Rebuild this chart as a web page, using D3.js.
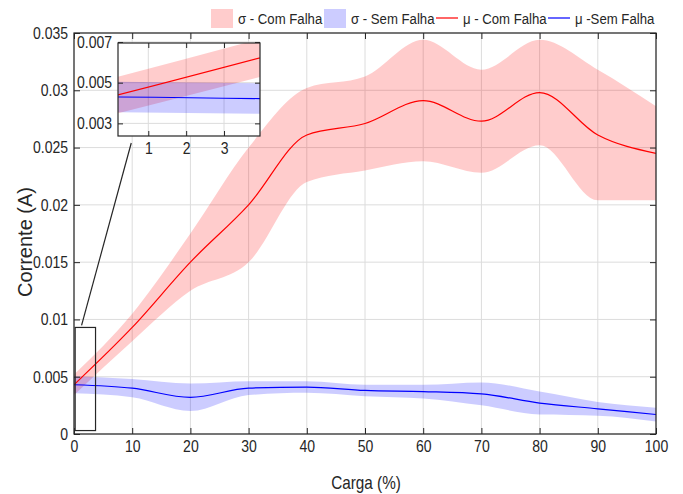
<!DOCTYPE html>
<html>
<head>
<meta charset="utf-8">
<script src="https://cdn.jsdelivr.net/npm/d3@7"></script>
<style>
  body { margin: 0; background: #fff; }
  text { font-family: "Liberation Sans", Arial, sans-serif; fill: #262626; }
</style>
</head>
<body>
<svg id="chart" width="683" height="494"></svg>
<script>
// carga (%) and current statistics (A)
const carga = [0, 10, 20, 30, 40, 50, 60, 70, 80, 90, 100];
const muCom = [0.0043, 0.0093, 0.0150, 0.0200, 0.0261, 0.0271, 0.0291, 0.0273, 0.0298, 0.0261, 0.0245];
const sdCom = [0.0009, 0.0012, 0.0025, 0.0050, 0.0041, 0.0041, 0.0053, 0.0045, 0.0046, 0.0057, 0.0041];
const muSem = [0.0043, 0.0040, 0.0032, 0.0040, 0.0041, 0.0038, 0.0037, 0.0035, 0.0027, 0.0022, 0.0017];
const sdSem = [0.00075, 0.0008, 0.0012, 0.0006, 0.0005, 0.0005, 0.0006, 0.0010, 0.0010, 0.0006, 0.0006];

const xTicks = d3.range(0, 101, 10);
const yTicks = [0, 0.005, 0.01, 0.015, 0.02, 0.025, 0.03, 0.035];
const insetXTicks = [1, 2, 3];
const insetYTicks = [0.003, 0.005, 0.007];
const legendLabels = ["σ - Com Falha", "σ - Sem Falha", "μ - Com Falha", "μ -Sem Falha"];

const com = carga.map((c, i) => ({x: c, mu: muCom[i], sd: sdCom[i]}));
const sem = carga.map((c, i) => ({x: c, mu: muSem[i], sd: sdSem[i]}));

const svg = d3.select("#chart");
const axisCol = "#262626", gridCol = "#dcdcdc";

function panel(g, x, y, xt, yt, fmtX, fmtY, clipId, tickLen) {
  const [x0, x1] = x.range(), [y0, y1] = y.range();
  g.append("clipPath").attr("id", clipId)
    .append("rect").attr("x", x0).attr("y", y1).attr("width", x1 - x0).attr("height", y0 - y1);
  g.append("rect").attr("x", x0).attr("y", y1).attr("width", x1 - x0).attr("height", y0 - y1).attr("fill", "#fff");
  // grid
  g.append("g").selectAll("line").data(xt).join("line")
    .attr("x1", d => x(d)).attr("x2", d => x(d)).attr("y1", y0).attr("y2", y1)
    .attr("stroke", gridCol).attr("stroke-width", 1);
  g.append("g").selectAll("line").data(yt).join("line")
    .attr("y1", d => y(d)).attr("y2", d => y(d)).attr("x1", x0).attr("x2", x1)
    .attr("stroke", gridCol).attr("stroke-width", 1);

  const plot = g.append("g").attr("clip-path", `url(#${clipId})`);
  const area = d3.area().curve(d3.curveMonotoneX)
    .x(d => x(d.x)).y0(d => y(d.mu - d.sd)).y1(d => y(d.mu + d.sd));
  const line = d3.line().curve(d3.curveMonotoneX).x(d => x(d.x)).y(d => y(d.mu));
  plot.append("path").datum(com).attr("d", area).attr("fill", "#ff0000").attr("fill-opacity", 0.2);
  plot.append("path").datum(sem).attr("d", area).attr("fill", "#0000ff").attr("fill-opacity", 0.2);
  plot.append("path").datum(com).attr("d", line).attr("fill", "none").attr("stroke", "#ff0000").attr("stroke-width", 1.2);
  plot.append("path").datum(sem).attr("d", line).attr("fill", "none").attr("stroke", "#0000ff").attr("stroke-width", 1.2);

  // axes with inward ticks on all four sides
  const bottom = g.append("g").attr("transform", `translate(0,${y0})`)
    .call(d3.axisBottom(x).tickValues(xt).tickSizeInner(-tickLen).tickSizeOuter(0).tickPadding(6).tickFormat(fmtX));
  const top = g.append("g").attr("transform", `translate(0,${y1})`)
    .call(d3.axisTop(x).tickValues(xt).tickSizeInner(-tickLen).tickSizeOuter(0).tickFormat(""));
  const left = g.append("g").attr("transform", `translate(${x0},0)`)
    .call(d3.axisLeft(y).tickValues(yt).tickSizeInner(-tickLen).tickSizeOuter(0).tickPadding(6).tickFormat(fmtY));
  const right = g.append("g").attr("transform", `translate(${x1},0)`)
    .call(d3.axisRight(y).tickValues(yt).tickSizeInner(-tickLen).tickSizeOuter(0).tickFormat(""));
  [bottom, top, left, right].forEach(a => {
    a.select(".domain").remove();
    a.selectAll("line").attr("stroke", axisCol);
    a.selectAll("text").attr("font-size", 16.5).attr("fill", axisCol)
      .attr("class", "narrow")
      .style("font-family", '"Liberation Sans", Arial, sans-serif');
  });
  g.append("rect").attr("x", x0).attr("y", y1).attr("width", x1 - x0).attr("height", y0 - y1)
    .attr("fill", "none").attr("stroke", axisCol).attr("stroke-width", 1.2);
}

// main axes
const x = d3.scaleLinear().domain([0, 100]).range([74, 656]);
const y = d3.scaleLinear().domain([0, 0.035]).range([434, 33]);
const main = svg.append("g");
panel(main, x, y, xTicks, yTicks, d3.format("d"), d => d === 0 ? "0" : String(+d.toFixed(3)), "clipMain", 6);

// zoom box and connector
const zoomBox = {x0: 0.2, x1: 3.7, y0: 0.0003, y1: 0.0093};
main.append("rect")
  .attr("x", x(zoomBox.x0)).attr("y", y(zoomBox.y1))
  .attr("width", x(zoomBox.x1) - x(zoomBox.x0)).attr("height", y(zoomBox.y0) - y(zoomBox.y1))
  .attr("fill", "none").attr("stroke", "#262626").attr("stroke-width", 1.2);

// inset axes
const xi = d3.scaleLinear().domain([0.2, 3.95]).range([118, 260]);
const yi = d3.scaleLinear().domain([0.00238, 0.00695]).range([136, 43]);
main.append("line")
  .attr("x1", x(1.3)).attr("y1", y(zoomBox.y1) - 2)
  .attr("x2", xi(0.55)).attr("y2", yi.range()[0] + 7)
  .attr("stroke", "#262626").attr("stroke-width", 1.2);
const inset = svg.append("g");
panel(inset, xi, yi, insetXTicks, insetYTicks, d3.format("d"), d3.format(".3f"), "clipInset", 5);

// axis titles
svg.append("text").attr("class", "narrow").attr("x", 366).attr("y", 489).attr("text-anchor", "middle")
  .attr("font-size", 18).text("Carga (%)");
svg.append("g").attr("transform", "translate(32,242) rotate(-90)")
  .append("text").attr("text-anchor", "middle").attr("font-size", 20).text("Corrente (A)");

// legend
const legend = svg.append("g");
const legX = [211, 324, 436, 548];
legendLabels.forEach((lab, i) => {
  const gx = legX[i];
  if (i < 2) {
    legend.append("rect").attr("x", gx).attr("y", 9).attr("width", 22).attr("height", 19)
      .attr("fill", i === 0 ? "#ff0000" : "#0000ff").attr("fill-opacity", 0.2);
  } else {
    legend.append("line").attr("x1", gx).attr("x2", gx + 22).attr("y1", 18).attr("y2", 18)
      .attr("stroke", i === 2 ? "#ff0000" : "#0000ff").attr("stroke-width", 1.2);
  }
  legend.append("text").attr("class", "narrow").attr("x", gx + 27).attr("y", 24)
    .attr("font-size", 15.5).text(lab);
});

// the reference uses a condensed face: squeeze those labels horizontally
svg.selectAll("text.narrow").each(function() {
  const a = getComputedStyle(this).textAnchor;
  const origin = a === "end" ? "right" : a === "middle" ? "center" : "left";
  d3.select(this).style("transform-box", "fill-box")
    .style("transform-origin", origin + " center")
    .style("transform", "scaleX(0.85)");
});
</script>
</body>
</html>
